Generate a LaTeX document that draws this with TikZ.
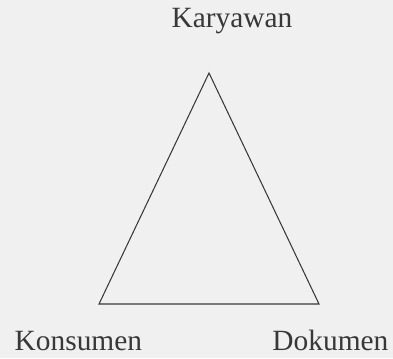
\documentclass[tikz,border=0pt]{standalone}
\usepackage{fontspec}
\setmainfont{Liberation Serif}
\usepackage{tikz}
\usetikzlibrary{positioning}
\definecolor{inkgray}{gray}{0.22}
\definecolor{paper}{gray}{0.94}
\tikzset{
  side/.style={draw=inkgray, line width=0.75pt, line join=miter},
  lab/.style={font=\fontsize{20.9}{24}\selectfont, text=inkgray, anchor=base, inner sep=0pt},
}
\begin{document}
\begin{tikzpicture}
  \fill[paper] (0,0) rectangle (9.825,8.95);
  \useasboundingbox (0,0) rectangle (9.825,8.95);
  \coordinate (k) at (5.225,7.125);
  \coordinate (s) at (2.475,1.35);
  \coordinate (d) at (7.975,1.35);
  \draw[side] (k) -- (s) -- (d) -- cycle;
  \node[lab] (karyawan) at (5.8,8.26) {Karyawan};
  \node[lab] (konsumen) at (1.96,0.2) {Konsumen};
  \node[lab] (dokumen) at (8.26,0.2) {Dokumen};
\end{tikzpicture}
\end{document}
